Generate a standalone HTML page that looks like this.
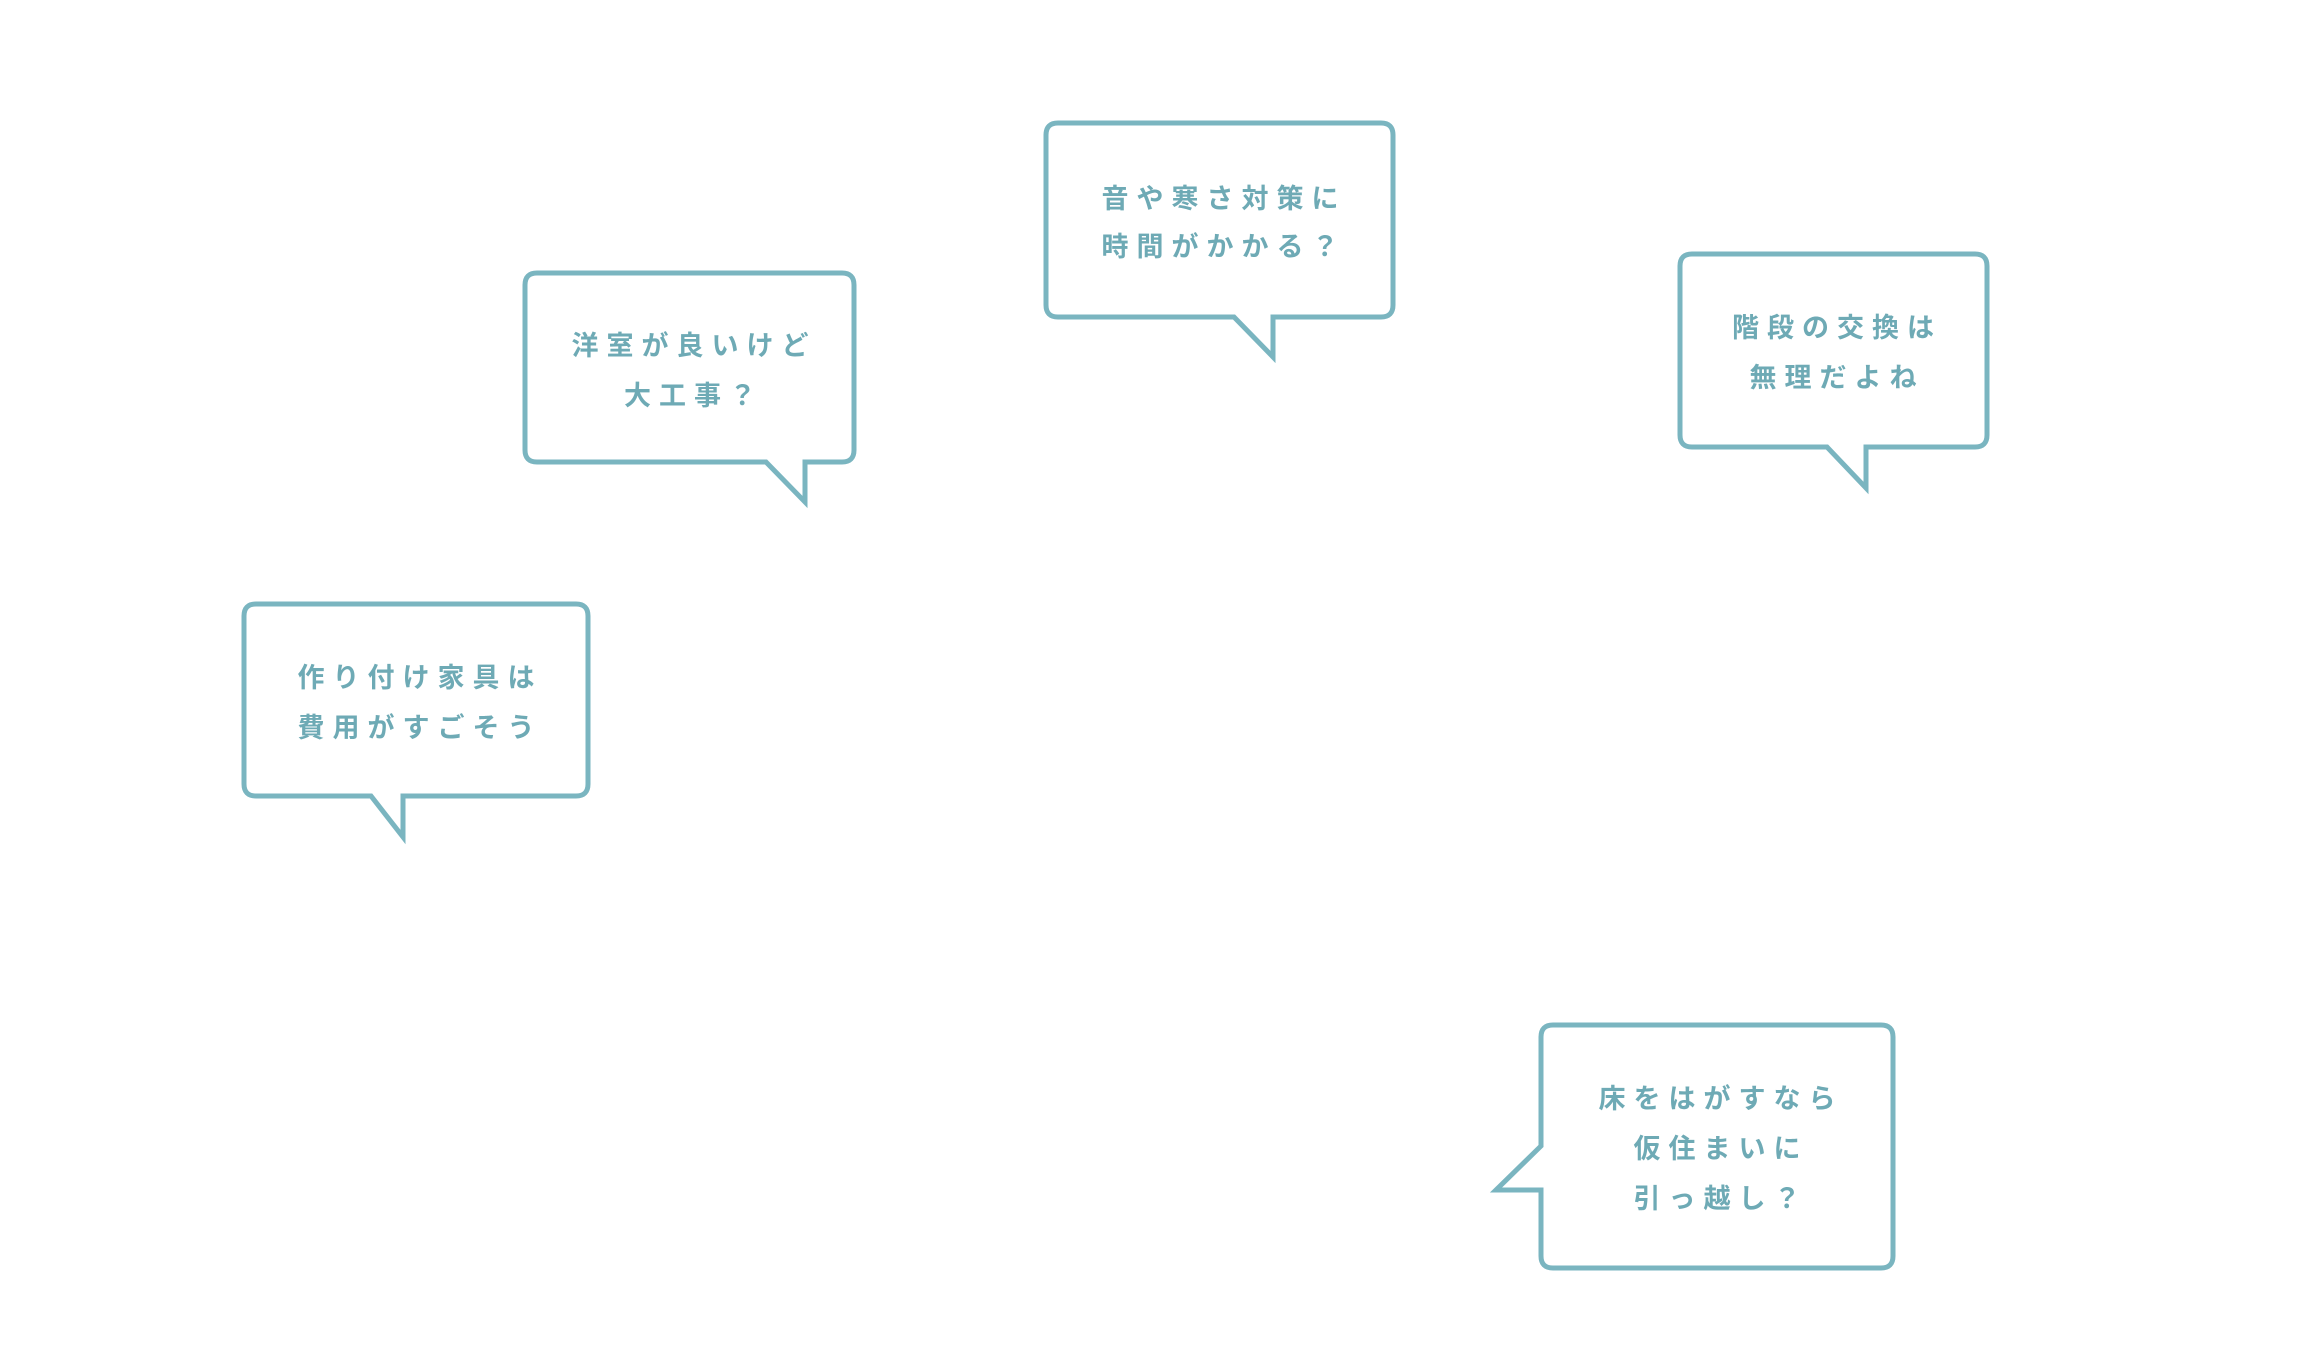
<!DOCTYPE html>
<html><head><meta charset="utf-8"><style>
html,body{margin:0;padding:0;background:#fff;}
svg{display:block;}
text{font-family:"Noto Sans CJK JP",sans-serif;font-size:27px;font-weight:bold;fill:#6eaab5;letter-spacing:8px;text-anchor:middle;}
path{fill:#fff;stroke:#7ab5c0;stroke-width:5;stroke-linejoin:miter;}
</style></head><body>
<svg width="2316" height="1360" viewBox="0 0 2316 1360" xmlns="http://www.w3.org/2000/svg">
<path d="M1058,123 H1381 Q1393,123 1393,135 V305 Q1393,317 1381,317 H1273 V357 L1234,317 H1058 Q1046,317 1046,305 V135 Q1046,123 1058,123 Z"/>
<text x="1224" y="208">音や寒さ対策に</text>
<text x="1224" y="256">時間がかかる？</text>
<path d="M537,273 H842 Q854,273 854,285 V450 Q854,462 842,462 H805 V502 L766,462 H537 Q525,462 525,450 V285 Q525,273 537,273 Z"/>
<text x="694" y="355">洋室が良いけど</text>
<text x="694" y="405">大工事？</text>
<path d="M1692,254 H1975 Q1987,254 1987,266 V435 Q1987,447 1975,447 H1866 V488 L1827,447 H1692 Q1680,447 1680,435 V266 Q1680,254 1692,254 Z"/>
<text x="1837" y="337">階段の交換は</text>
<text x="1837" y="387">無理だよね</text>
<path d="M256,604 H576 Q588,604 588,616 V784 Q588,796 576,796 H403 V837 L371,796 H256 Q244,796 244,784 V616 Q244,604 256,604 Z"/>
<text x="420" y="687">作り付け家具は</text>
<text x="420" y="737">費用がすごそう</text>
<path d="M1553,1025 H1881 Q1893,1025 1893,1037 V1256 Q1893,1268 1881,1268 H1553 Q1541,1268 1541,1256 V1190 H1496 L1541,1146 V1037 Q1541,1025 1553,1025 Z"/>
<text x="1721" y="1108">床をはがすなら</text>
<text x="1721" y="1158">仮住まいに</text>
<text x="1721" y="1208">引っ越し？</text>
</svg>
</body></html>
